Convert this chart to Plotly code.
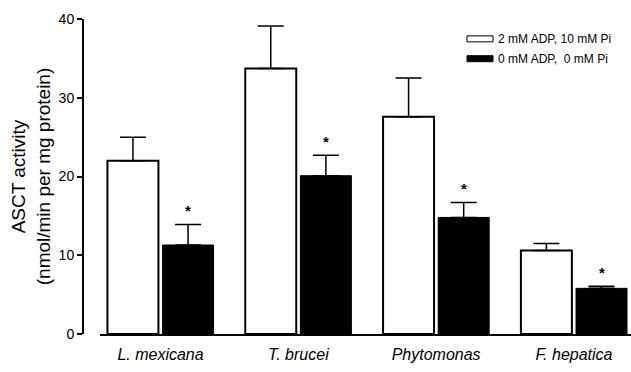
import plotly.graph_objects as go

categories = ["L. mexicana", "T. brucei", "Phytomonas", "F. hepatica"]
series_names = ["2 mM ADP, 10 mM Pi", "0 mM ADP,  0 mM Pi"]
with_adp = [22.0, 33.7, 27.6, 10.6]
with_adp_err = [3.0, 5.4, 4.9, 0.9]
without_adp = [11.3, 20.1, 14.8, 5.8]
without_adp_err = [2.6, 2.6, 1.9, 0.25]
significant = [True, True, True, True]
y_ticks = [0, 10, 20, 30, 40]

FONT = "Liberation Sans, Arial, Helvetica, sans-serif"
xpos = list(range(len(categories)))
BW = 0.37

fig = go.Figure()
fig.add_trace(go.Bar(
    x=xpos, y=with_adp, name=series_names[0], width=BW, offset=-0.385,
    marker=dict(color="white", line=dict(color="black", width=2)),
    error_y=dict(type="data", symmetric=False, array=with_adp_err,
                 arrayminus=[0] * len(with_adp), color="black",
                 thickness=1.5, width=13),
    showlegend=False,
))
fig.add_trace(go.Bar(
    x=xpos, y=without_adp, name=series_names[1], width=BW, offset=0.015,
    marker=dict(color="black", line=dict(color="black", width=1)),
    error_y=dict(type="data", symmetric=False, array=without_adp_err,
                 arrayminus=[0] * len(without_adp), color="black",
                 thickness=1.5, width=13),
    showlegend=False,
))

# significance stars above the black bars
for i, (v, e, s) in enumerate(zip(without_adp, without_adp_err, significant)):
    if s:
        fig.add_annotation(x=i + 0.015 + BW / 2, y=v + e, text="<b>*</b>", showarrow=False,
                           yshift=14, font=dict(family=FONT, size=15, color="black"))

# manual legend
legend_y = [0.937, 0.874]
fills = ["white", "black"]
for name, ly, fc in zip(series_names, legend_y, fills):
    fig.add_shape(type="rect", xref="paper", yref="paper",
                  x0=(467 - 83) / 548, x1=(493 - 83) / 548,
                  y0=ly - 0.0095, y1=ly + 0.0095,
                  fillcolor=fc, line=dict(color="black", width=1))
    fig.add_annotation(xref="paper", yref="paper", x=(496 - 83) / 548, y=ly,
                       xanchor="left", yanchor="middle", text=name, showarrow=False,
                       font=dict(family=FONT, size=12, color="black"))

fig.update_layout(
    width=631, height=372,
    margin=dict(l=83, r=0, t=19, b=38, autoexpand=False),
    paper_bgcolor="white", plot_bgcolor="white",
    barmode="overlay",
    font=dict(family=FONT, color="black"),
    xaxis=dict(
        domain=[17 / 548, 1], range=[-0.439, 3.414], automargin=False,
        tickvals=xpos, ticktext=[f"<i>{c}</i>" for c in categories],
        ticks="", showline=True, linecolor="black", linewidth=1.5,
        showgrid=False, zeroline=False,
        tickfont=dict(family=FONT, size=16, color="black"),
        ticklabelstandoff=5,
    ),
    yaxis=dict(
        anchor="free", position=0, range=[0, 40], automargin=False,
        tickvals=y_ticks, ticks="outside", ticklen=5, tickwidth=1.5,
        tickcolor="black", showline=True, linecolor="black", linewidth=2,
        showgrid=False, zeroline=False,
        tickfont=dict(family=FONT, size=14, color="black"),
        title=dict(text="ASCT activity<br>(nmol/min per mg protein)",
                   font=dict(family=FONT, size=19, color="black"), standoff=2),
    ),
)

fig.write_html("out.html", config={"displayModeBar": False},
               post_script="document.body.style.margin='0';")
